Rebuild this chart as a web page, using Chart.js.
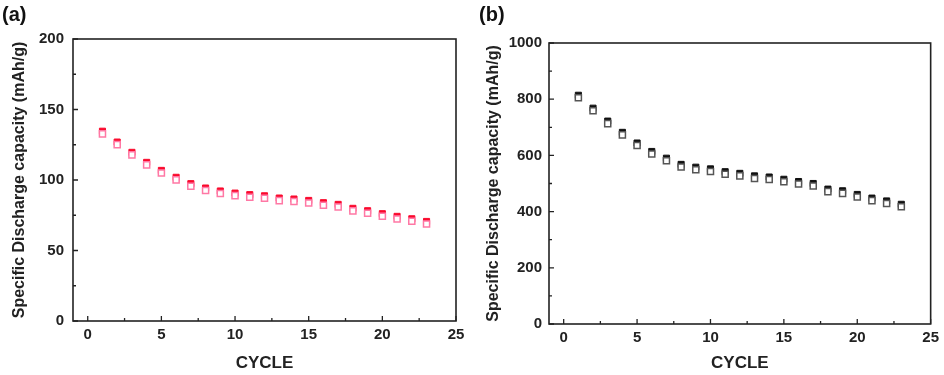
<!DOCTYPE html>
<html>
<head>
<meta charset="utf-8">
<script src="https://cdn.jsdelivr.net/npm/chart.js@4/dist/chart.umd.min.js"></script>
<style>
  body { margin: 0; background: #fff; }
  #wrap { position: relative; width: 944px; height: 375px; overflow: hidden; }
  .pnl { position: absolute; top: 0; height: 375px; }
  .lbl { position: absolute; top: 3px; font: bold 20px "Liberation Sans", Arial, sans-serif; color: #111; }
</style>
</head>
<body>
<div id="wrap">
  <div class="pnl" style="left:0;width:470px"><canvas id="chartA" width="470" height="375"></canvas></div>
  <div class="pnl" style="left:470px;width:474px"><canvas id="chartB" width="474" height="375"></canvas></div>
  <div class="lbl" style="left:2px">(a)</div>
  <div class="lbl" style="left:479px">(b)</div>
</div>
<script>
const cycles = [1,2,3,4,5,6,7,8,9,10,11,12,13,14,15,16,17,18,19,20,21,22,23]

// (a) red series
const capA_filled = [134.6,126.9,119.6,112.5,106.8,101.9,97.4,94.3,92.2,90.7,89.6,88.8,87.2,86.5,85.5,83.9,82.7,79.9,78.2,76.1,74.2,72.5,70.6]
const capA_open = [132.7,125.1,117.8,110.7,105.0,100.1,95.6,92.5,90.4,88.9,87.8,87.0,85.4,84.7,83.7,82.1,80.9,78.1,76.4,74.3,72.4,70.7,68.8]

// (b) black series
const capB_filled = [814,768,722,682,644,614,590,568,558,552,542,536,527,523,515,507,500,480,474,461,448,438,426]
const capB_open = [805,759,713,673,635,605,581,559,549,543,533,527,518,514,506,498,491,471,465,452,439,429,417]

const xTicks = [0,5,10,15,20,25]
const yTicksA = [0,50,100,150,200]
const yTicksB = [0,200,400,600,800,1000]

const fontFam = '"Liberation Sans", Arial, sans-serif'

// frame + inward tick marks
const framePlugin = {
  id: 'frame',
  afterDraw(chart, args, opts) {
    const { ctx, chartArea: a, scales } = chart
    ctx.save()
    ctx.strokeStyle = '#222'
    ctx.lineWidth = 1.6
    ctx.strokeRect(a.left, a.top, a.right - a.left, a.bottom - a.top)
    ctx.lineWidth = 1.3
    ctx.beginPath()
    for (let v = 0; v <= 25; v += 2.5) {
      let px = scales.x.getPixelForValue(v)
      let len = v % 5 === 0 ? 5 : 3
      ctx.moveTo(px, a.bottom)
      ctx.lineTo(px, a.bottom - len)
    }
    for (let v = 0; v <= opts.yMax; v += opts.yMinor) {
      let py = scales.y.getPixelForValue(v)
      let len = v % (opts.yMinor * 2) === 0 ? 5 : 3
      ctx.moveTo(a.left, py)
      ctx.lineTo(a.left + len, py)
    }
    ctx.stroke()
    ctx.restore()
  }
}

function makeChart(id, filled, open, fillColor, openColor, yMax, yTicks, yMinor, yWidth, padRight, padTop, xHeight, yPad, titleLeft) {
  return new Chart(document.getElementById(id), {
    type: 'scatter',
    data: {
      datasets: [{
        data: cycles.map((c, i) => ({ x: c, y: open[i] })),
        pointStyle: 'rect',
        pointRadius: 4.3,
        pointBorderWidth: 1.5,
        backgroundColor: '#fff',
        borderColor: openColor,
        order: 0
      }, {
        data: cycles.map((c, i) => ({ x: c, y: filled[i] })),
        pointStyle: 'rect',
        pointRadius: 4.3,
        pointBorderWidth: 1,
        backgroundColor: fillColor,
        borderColor: fillColor,
        order: 1
      }]
    },
    options: {
      responsive: false,
      animation: false,
      layout: { padding: { left: 0, right: padRight, top: padTop, bottom: 0 } },
      plugins: {
        legend: { display: false },
        tooltip: { enabled: false },
        frame: { yMax: yMax, yMinor: yMinor }
      },
      scales: {
        x: {
          type: 'linear', min: -1, max: 25,
          afterBuildTicks: s => { s.ticks = xTicks.map(v => ({ value: v })) },
          afterFit: s => { s.height = xHeight },
          grid: { display: false, drawTicks: false },
          border: { display: false },
          ticks: { color: '#222', padding: 5, font: { family: fontFam, size: 15, weight: 'bold' } },
          title: { display: true, text: 'CYCLE', color: '#222', padding: { top: 4, bottom: 1 }, font: { family: fontFam, size: 17, weight: 'bold' } }
        },
        y: {
          min: 0, max: yMax,
          afterBuildTicks: s => { s.ticks = yTicks.map(v => ({ value: v })) },
          afterFit: s => { s.width = yWidth },
          grid: { display: false, drawTicks: false },
          border: { display: false },
          ticks: { color: '#222', padding: yPad, callback: v => String(v), font: { family: fontFam, size: 15, weight: 'bold' } },
          title: { display: true, text: 'Specific Discharge capacity (mAh/g)', color: '#222', padding: { top: titleLeft, bottom: 4 }, font: { family: fontFam, size: 16, weight: 'bold' } }
        }
      }
    },
    plugins: [framePlugin]
  })
}

document.addEventListener("DOMContentLoaded", () => {
  makeChart('chartA', capA_filled, capA_open, 'rgb(250,10,45)', 'rgb(255,120,165)', 200, yTicksA, 25, 73, 14, 39, 54, 9, 10)
  makeChart('chartB', capB_filled, capB_open, '#111', '#555', 1000, yTicksB, 100, 79, 12, 43, 51, 7, 14)
})
</script>
</body>
</html>
